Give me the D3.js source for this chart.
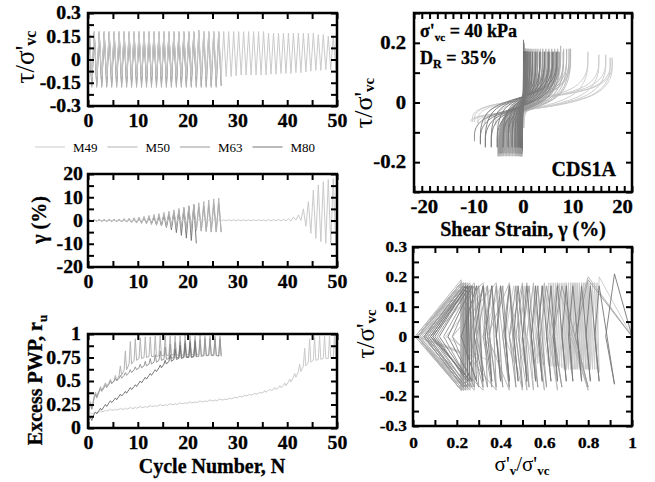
<!DOCTYPE html>
<html>
<head>
<meta charset="utf-8">
<script src="https://cdn.jsdelivr.net/npm/d3@7"></script>
<style>
body { margin: 0; background: #fff; }
svg text { font-family: "Liberation Serif", "Times New Roman", serif; fill: #000; }
</style>
</head>
<body>
<svg id="viz" width="655" height="482"></svg>
<script>
// specimens in the legend
var names = ["M49", "M50", "M63", "M80"];

// per-cycle peaks (one entry per loading cycle)
var tauHiM49 = [0.20, 0.18, 0.18, 0.18, 0.18, 0.18, 0.18, 0.18, 0.18, 0.18,
    0.18, 0.18, 0.18, 0.18, 0.18, 0.18, 0.18, 0.18, 0.18, 0.18,
    0.18, 0.18, 0.18, 0.18, 0.18, 0.18, 0.18, 0.18, 0.18, 0.18,
    0.18, 0.18, 0.18, 0.18, 0.18, 0.18, 0.17, 0.17, 0.17, 0.17,
    0.17, 0.17, 0.17, 0.17, 0.17, 0.17, 0.16, 0.16, 0.15, 0.15];
var tauLoM49 = [-0.12, -0.11, -0.11, -0.11, -0.11, -0.11, -0.11, -0.11, -0.11, -0.11,
    -0.11, -0.11, -0.11, -0.11, -0.11, -0.11, -0.11, -0.11, -0.11, -0.11,
    -0.11, -0.11, -0.11, -0.11, -0.11, -0.11, -0.11, -0.11, -0.11, -0.105,
    -0.10, -0.10, -0.10, -0.10, -0.10, -0.10, -0.095, -0.095, -0.09, -0.09,
    -0.09, -0.085, -0.085, -0.08, -0.075, -0.07, -0.07, -0.065, -0.065, -0.065];
var gamHiM49 = [0.2, 0.2, 0.2, 0.2, 0.2, 0.2, 0.2, 0.2, 0.2, 0.2,
    0.2, 0.2, 0.2, 0.2, 0.2, 0.2, 0.2, 0.2, 0.2, 0.2,
    0.2, 0.2, 0.2, 0.2, 0.2, 0.2, 0.2, 0.3, 0.3, 0.3,
    0.3, 0.3, 0.3, 0.3, 0.3, 0.3, 0.4, 0.4, 0.5, 0.5,
    0.7, 1.4, 2.4, 5.0, 8.1, 13.1, 15.3, 16.7, 17.6, 18.0];
var gamLoM49 = [-0.1, -0.1, -0.1, -0.1, -0.1, -0.1, -0.1, -0.1, -0.1, -0.1,
    -0.1, -0.1, -0.1, -0.1, -0.1, -0.1, -0.1, -0.1, -0.1, -0.1,
    -0.1, -0.1, -0.1, -0.1, -0.1, -0.1, -0.1, -0.1, -0.1, -0.1,
    -0.1, -0.1, -0.1, -0.1, -0.1, -0.2, -0.2, -0.2, -0.2, -0.2,
    -0.2, 0.2, 0.0, -2.5, -5.5, -7.7, -9.1, -9.8, -10.2, -10.5];
var ruHiM49 = [0.16, 0.17, 0.18, 0.19, 0.20, 0.20, 0.21, 0.21, 0.22, 0.22,
    0.23, 0.23, 0.24, 0.24, 0.25, 0.25, 0.26, 0.26, 0.27, 0.27,
    0.28, 0.28, 0.29, 0.29, 0.30, 0.30, 0.31, 0.31, 0.32, 0.33,
    0.34, 0.35, 0.36, 0.37, 0.38, 0.40, 0.41, 0.43, 0.45, 0.48,
    0.52, 0.58, 0.68, 0.85, 0.95, 0.97, 0.98, 0.98, 0.98, 0.98];
var ruLoM49 = [0.15, 0.16, 0.17, 0.18, 0.19, 0.19, 0.20, 0.20, 0.21, 0.21,
    0.22, 0.22, 0.23, 0.23, 0.24, 0.24, 0.25, 0.25, 0.26, 0.26,
    0.27, 0.27, 0.28, 0.28, 0.29, 0.29, 0.30, 0.30, 0.31, 0.32,
    0.33, 0.34, 0.35, 0.36, 0.37, 0.38, 0.40, 0.41, 0.43, 0.45,
    0.49, 0.54, 0.60, 0.66, 0.70, 0.72, 0.73, 0.74, 0.74, 0.75];

var tauHiM50 = [0.20, 0.18, 0.18, 0.18, 0.18, 0.18, 0.18, 0.18, 0.18, 0.18,
    0.18, 0.18, 0.18, 0.18, 0.18, 0.18, 0.18, 0.18, 0.18, 0.18,
    0.18, 0.18, 0.19, 0.18, 0.18, 0.18, 0.18];
var tauLoM50 = [-0.18, -0.18, -0.18, -0.18, -0.18, -0.18, -0.18, -0.18, -0.18, -0.18,
    -0.18, -0.18, -0.18, -0.18, -0.18, -0.18, -0.18, -0.18, -0.18, -0.18,
    -0.18, -0.18, -0.18, -0.18, -0.18, -0.18, -0.17];
var gamHiM50 = [0.3, 0.3, 0.4, 0.4, 0.5, 0.5, 0.6, 0.8, 1.0, 1.2,
    1.5, 1.8, 2.2, 2.6, 3.0, 3.5, 4.0, 4.6, 5.2, 5.8,
    6.4, 7.0, 7.6, 8.2, 8.8, 9.3, 9.6];
var gamLoM50 = [-0.2, -0.3, -0.3, -0.4, -0.4, -0.5, -0.6, -0.7, -0.9, -1.1,
    -1.3, -1.5, -1.8, -2.1, -2.4, -2.7, -3.0, -3.3, -3.6, -3.9,
    -4.2, -4.4, -4.6, -4.8, -5.0, -5.0, -5.0];
var ruHiM50 = [0.28, 0.38, 0.44, 0.48, 0.52, 0.56, 0.66, 0.82, 0.92, 0.95,
    0.96, 0.97, 0.97, 0.98, 0.98, 0.98, 0.98, 0.98, 0.98, 0.99,
    0.98, 0.98, 0.99, 0.98, 0.98, 0.98, 0.98];
var ruLoM50 = [0.20, 0.34, 0.40, 0.45, 0.48, 0.50, 0.56, 0.62, 0.68, 0.72,
    0.74, 0.75, 0.76, 0.76, 0.77, 0.77, 0.78, 0.78, 0.77, 0.78,
    0.78, 0.78, 0.78, 0.77, 0.78, 0.78, 0.76];

var tauHiM63 = [0.19, 0.17, 0.17, 0.17, 0.17, 0.17, 0.17, 0.17, 0.17, 0.17,
    0.17, 0.17, 0.17, 0.17, 0.17, 0.17, 0.17, 0.17, 0.17, 0.17,
    0.17, 0.17, 0.17, 0.17, 0.17, 0.17, 0.17];
var tauLoM63 = [-0.17, -0.17, -0.17, -0.17, -0.17, -0.17, -0.17, -0.17, -0.17, -0.17,
    -0.17, -0.17, -0.17, -0.17, -0.17, -0.17, -0.17, -0.17, -0.17, -0.17,
    -0.17, -0.17, -0.17, -0.17, -0.17, -0.17, -0.17];
var gamHiM63 = [0.2, 0.3, 0.3, 0.3, 0.4, 0.4, 0.5, 0.5, 0.6, 0.7,
    0.8, 1.0, 1.2, 1.5, 1.9, 2.4, 2.9, 3.4, 3.9, 4.4,
    4.9, 5.4, 5.8, 6.2, 6.6, 7.0, 7.3];
var gamLoM63 = [-0.2, -0.2, -0.3, -0.3, -0.3, -0.4, -0.4, -0.5, -0.6, -0.7,
    -0.8, -1.0, -1.2, -1.5, -1.8, -2.2, -2.6, -3.0, -3.4, -3.8,
    -4.1, -4.3, -4.5, -4.6, -4.7, -4.8, -4.9];
var ruHiM63 = [0.26, 0.36, 0.42, 0.46, 0.50, 0.53, 0.56, 0.59, 0.62, 0.65,
    0.68, 0.71, 0.74, 0.78, 0.82, 0.86, 0.89, 0.91, 0.92, 0.93,
    0.93, 0.94, 0.94, 0.95, 0.95, 0.95, 0.95];
var ruLoM63 = [0.20, 0.32, 0.39, 0.43, 0.47, 0.50, 0.53, 0.56, 0.59, 0.62,
    0.64, 0.66, 0.68, 0.70, 0.72, 0.73, 0.74, 0.75, 0.75, 0.76,
    0.76, 0.76, 0.76, 0.77, 0.77, 0.77, 0.77];

var tauHiM80 = [0.21, 0.17, 0.17, 0.17, 0.17, 0.17, 0.17, 0.17, 0.17, 0.17,
    0.17, 0.17, 0.17, 0.17, 0.17, 0.17, 0.17, 0.17, 0.17, 0.17,
    0.17, 0.17];
var tauLoM80 = [-0.16, -0.15, -0.15, -0.15, -0.15, -0.15, -0.15, -0.15, -0.15, -0.15,
    -0.15, -0.15, -0.15, -0.15, -0.15, -0.15, -0.15, -0.15, -0.15, -0.15,
    -0.14, -0.13];
var gamHiM80 = [0.1, 0.1, 0.2, 0.2, 0.2, 0.3, 0.3, 0.3, 0.4, 0.4,
    0.5, 0.6, 0.8, 1.0, 1.4, 1.9, 2.6, 3.4, 4.3, 5.2,
    6.0, 6.8];
var gamLoM80 = [-0.1, -0.1, -0.2, -0.2, -0.3, -0.3, -0.4, -0.4, -0.5, -0.6,
    -0.7, -0.9, -1.2, -1.6, -2.2, -3.0, -4.0, -5.2, -6.4, -7.6,
    -8.6, -9.8];
var ruHiM80 = [0.12, 0.17, 0.21, 0.25, 0.29, 0.32, 0.36, 0.39, 0.43, 0.46,
    0.50, 0.54, 0.58, 0.62, 0.67, 0.72, 0.78, 0.84, 0.88, 0.90,
    0.91, 0.92];
var ruLoM80 = [0.08, 0.15, 0.19, 0.23, 0.27, 0.30, 0.34, 0.37, 0.41, 0.44,
    0.48, 0.52, 0.56, 0.60, 0.64, 0.68, 0.71, 0.73, 0.74, 0.75,
    0.75, 0.76];

// stress level while the strain flows through the liquefied state
var flowPos = 0.03, flowNeg = -0.04;

// tick labels
var cycleLabels = [0, 10, 20, 30, 40, 50];
var tauLabels = [-0.3, -0.15, 0, 0.15, 0.3];
var gamLabels = [-20, -10, 0, 10, 20];
var ruLabels = [0, 0.25, 0.5, 0.75, 1];
var strainLabels = [-20, -10, 0, 10, 20];
var loopTauLabels = [-0.2, 0, 0.2];
var ratioLabels = [0, 0.2, 0.4, 0.6, 0.8, 1];
var pathTauLabels = [-0.3, -0.2, -0.1, 0, 0.1, 0.2, 0.3];

var colors = ["#cacaca", "#b3b3b3", "#999999", "#777777"];

var runs = [
    { tauHi: tauHiM49, tauLo: tauLoM49, gamHi: gamHiM49, gamLo: gamLoM49, ruHi: ruHiM49, ruLo: ruLoM49 },
    { tauHi: tauHiM50, tauLo: tauLoM50, gamHi: gamHiM50, gamLo: gamLoM50, ruHi: ruHiM50, ruLo: ruLoM50 },
    { tauHi: tauHiM63, tauLo: tauLoM63, gamHi: gamHiM63, gamLo: gamLoM63, ruHi: ruHiM63, ruLo: ruLoM63 },
    { tauHi: tauHiM80, tauLo: tauLoM80, gamHi: gamHiM80, gamLo: gamLoM80, ruHi: ruHiM80, ruLo: ruLoM80 }
];
runs.forEach(function (r, i) { r.name = names[i]; r.color = colors[i]; });

var svg = d3.select("#viz");
var tickLen = 6;

// cycle-number series: positive peak at a quarter cycle, negative at three quarters
function peakSeries(hi, lo) {
    var pts = [[0, 0]];
    hi.forEach(function (h, k) {
        pts.push([k + 0.25, h], [k + 0.75, lo[k]]);
    });
    return pts;
}
function ruSeries(r) {
    var pts = [[0, 0]];
    r.ruLo.forEach(function (v, k) {
        pts.push([k + 0.25, v], [k + 0.5, r.ruHi[k]], [k + 0.75, v]);
    });
    return pts;
}
// hysteresis loops; peaks repeated so the B-spline passes through them
function loopSeries(r) {
    var pts = [[0, 0]], g0 = 0;
    r.gamHi.forEach(function (gh, k) {
        var gl = r.gamLo[k], th = r.tauHi[k], tl = r.tauLo[k];
        pts.push([g0, 0], [gh, flowPos], [gh, th], [gh, th], [gh, th],
            [gh, 0], [gl, flowNeg], [gl, tl], [gl, tl], [gl, tl]);
        g0 = gl;
    });
    return pts;
}
function pathSeries(r) {
    var pts = [[1, 0]];
    r.ruLo.forEach(function (v, k) {
        pts.push([1 - v, r.tauHi[k]], [1 - r.ruHi[k], 0], [1 - v, r.tauLo[k]]);
    });
    return pts;
}

function fmt(labels) {
    return function (d) {
        var m = labels.filter(function (l) { return Math.abs(l - d) < 1e-6; });
        return m.length ? String(m[0]) : "";
    };
}

function addAxis(g, axis, tr, vals, format, fs, pad, stretch, len) {
    axis.tickValues(vals).tickSizeInner(len === undefined ? -tickLen : len).tickSizeOuter(0)
        .tickPadding(pad).tickFormat(format);
    var s = g.append("g").attr("transform", tr).call(axis);
    s.select(".domain").remove();
    s.selectAll("line").attr("stroke", "#000").attr("stroke-width", 2);
    s.selectAll("text").style("font-size", fs + "px").style("font-weight", "bold")
        .style("font-family", "'Liberation Serif', serif").attr("fill", "#000")
        .attr("stroke", "#000").attr("stroke-width", 0.3)
        .each(function () {
            var w = this.getComputedTextLength();
            if (w > 0) d3.select(this).attr("textLength", w * stretch).attr("lengthAdjust", "spacingAndGlyphs");
        });
}

var clipId = 0;
function panel(o) {
    var x = d3.scaleLinear().domain(o.xd).range([o.x0, o.x1]);
    var y = d3.scaleLinear().domain(o.yd).range([o.y1, o.y0]);
    var g = svg.append("g");
    var id = "clip" + (clipId++);
    g.append("clipPath").attr("id", id).append("rect")
        .attr("x", o.x0).attr("y", o.y0).attr("width", o.x1 - o.x0).attr("height", o.y1 - o.y0);
    var line = d3.line().curve(o.curve || d3.curveLinear)
        .x(function (d) { return x(d[0]); }).y(function (d) { return y(d[1]); });
    var lines = g.append("g").attr("clip-path", "url(#" + id + ")");
    var order = o.darkFirst ? runs.slice().reverse() : runs;
    order.forEach(function (r) {
        lines.append("path").datum(o.series(r))
            .attr("d", line).attr("fill", "none")
            .attr("stroke", r.color).attr("stroke-width", o.sw || 1)
            .attr("stroke-linejoin", "round");
    });
    var fs = o.fs || 18, st = o.stretch || 1.1;
    addAxis(g, d3.axisBottom(x), "translate(0," + o.y1 + ")", o.xt, o.xLab ? "" : fmt(o.xl), fs, o.xpad || 8.5, st);
    addAxis(g, d3.axisTop(x), "translate(0," + o.y0 + ")", o.xt, "", fs, 4, st);
    addAxis(g, d3.axisLeft(y), "translate(" + o.x0 + ",0)", o.yt, fmt(o.yl), fs, o.ypad || 7, st);
    addAxis(g, d3.axisRight(y), "translate(" + o.x1 + ",0)", o.yt, "", fs, 4, st);
    if (o.xLab) {
        addAxis(g, d3.axisBottom(x), "translate(0," + o.y1 + ")", o.xl, fmt(o.xl), fs, o.xpad || 8.5, st, 0);
    }
    g.append("rect").attr("x", o.x0).attr("y", o.y0)
        .attr("width", o.x1 - o.x0).attr("height", o.y1 - o.y0)
        .attr("fill", "none").attr("stroke", "#000").attr("stroke-width", 2.5);
    return g;
}

// text with sub/superscripts: parts = [text, shift px, size px, bold]
function label(x, y, rot, size, weight, anchor, parts) {
    var t = svg.append("text")
        .attr("transform", "translate(" + x + "," + y + ")" + (rot ? " rotate(-90)" : ""))
        .attr("text-anchor", anchor).style("font-size", size + "px").style("font-weight", weight);
    if (weight === "bold") t.attr("stroke", "#000").attr("stroke-width", 0.3);
    var base = 0;
    parts.forEach(function (p) {
        var s = t.append("tspan").text(p[0]).attr("dy", (p[1] || 0) - base);
        if (p[2]) s.style("font-size", p[2] + "px");
        if (p[3]) s.style("font-weight", "bold");
        base = p[1] || 0;
    });
    return t;
}

var cycTicks = d3.range(0, 50.01, 5);

panel({ x0: 88, x1: 337, y0: 13, y1: 106, xd: [0, 50], yd: [-0.3, 0.3], darkFirst: true,
    xt: cycTicks, xl: cycleLabels, yt: d3.range(-0.3, 0.301, 0.075), yl: tauLabels,
    series: function (r) { return peakSeries(r.tauHi, r.tauLo); } });

panel({ x0: 88, x1: 337, y0: 174, y1: 267, xd: [0, 50], yd: [-20, 20], darkFirst: true,
    xt: cycTicks, xl: cycleLabels, yt: d3.range(-20, 20.01, 5), yl: gamLabels, ypad: 5,
    series: function (r) { return peakSeries(r.gamHi, r.gamLo); } });

panel({ x0: 88, x1: 337, y0: 334, y1: 428, xd: [0, 50], yd: [0, 1],
    xt: cycTicks, xl: cycleLabels, yt: d3.range(0, 1.001, 0.125), yl: ruLabels,
    series: ruSeries });

panel({ x0: 414, x1: 632, y0: 13, y1: 192, xd: [-22, 22], yd: [-0.3, 0.3],
    xt: d3.range(29).map(function (i) { return -22 + i * 44 / 28; }), xl: strainLabels, xLab: true,
    yt: d3.range(-0.3, 0.301, 0.1), yl: loopTauLabels, ypad: 8, xpad: 8, sw: 0.9, stretch: 1.15,
    curve: d3.curveBasis, series: loopSeries });

panel({ x0: 413, x1: 632, y0: 247, y1: 426, xd: [0, 1], yd: [-0.3, 0.3],
    xt: d3.range(0, 1.001, 0.1), xl: ratioLabels, yt: d3.range(-0.3, 0.301, 0.05), yl: pathTauLabels,
    fs: 15, ypad: 6, xpad: 11, sw: 0.9, stretch: 1.15,
    series: pathSeries });

// legend
runs.forEach(function (r, i) {
    var lx = 35 + i * 72.5;
    svg.append("line").attr("x1", lx).attr("x2", lx + 30).attr("y1", 147).attr("y2", 147)
        .attr("stroke", r.color).attr("stroke-width", 1);
    svg.append("text").attr("x", lx + 38).attr("y", 151.5).style("font-size", "13px").text(r.name);
});

// axis titles
label(34, 57, true, 27, "normal", "middle", [["τ/σ'"], ["vc", 2, 16, true]]);
label(46, 220, true, 20, "bold", "middle", [["γ (%)"]]);
label(42, 380, true, 20, "bold", "middle", [["Excess PWP, r"], ["u", 5, 13]]);
label(212, 473, false, 20, "bold", "middle", [["Cycle Number, N"]]);

label(372, 103, true, 26, "normal", "middle", [["τ/σ'"], ["vc", 2, 15, true]]);
label(523, 236, false, 20, "bold", "middle", [["Shear Strain, γ (%)"]]);
label(420, 37, false, 18, "bold", "start", [["σ'"], ["vc", 4, 11, true], [" = 40 kPa", 0]]);
label(420, 64, false, 18, "bold", "start", [["D"], ["R", 4, 12], [" = 35%", 0]]);
label(616, 176, false, 20, "bold", "end", [["CDS1A"]]);

label(374, 334, true, 25, "normal", "middle", [["τ/σ'"], ["vc", 2, 15, true]]);
label(522, 471, false, 21, "normal", "middle", [["σ'"], ["v", 4, 13, true], ["/σ'", 0], ["vc", 4, 13, true]]);
</script>
</body>
</html>
